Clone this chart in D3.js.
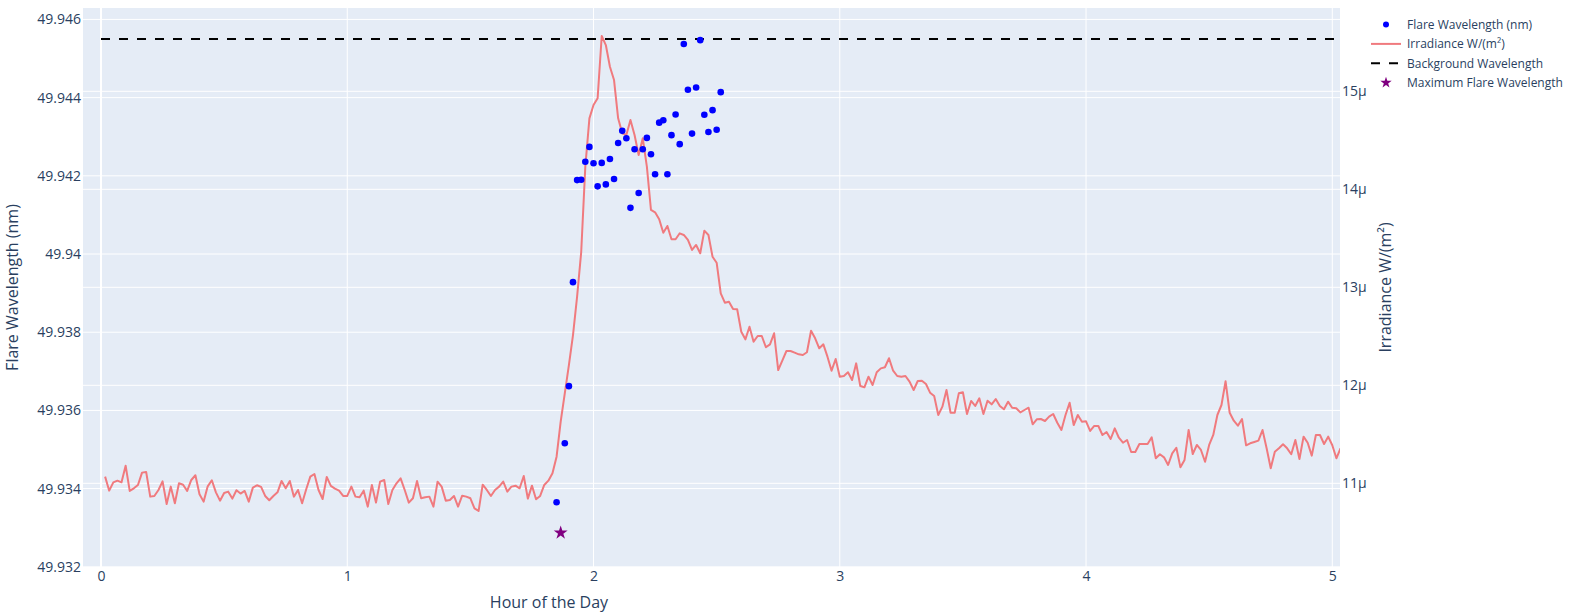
<!DOCTYPE html>
<html lang="en">
<head>
<meta charset="utf-8">
<title>Flare</title>
<style>
  body { margin: 0; background: #fff; }
  text { font-family: "Open Sans", verdana, arial, sans-serif; fill: #2a3f5f; }
</style>
</head>
<body>
<script src="https://cdn.jsdelivr.net/npm/d3@7"></script>
<script>
// irradiance, one value per minute starting at minute 1, in micro W/m^2
var irrStartMinute = 1;
var irradiance = [
  11.068, 10.925, 11.010, 11.027, 11.010, 11.180, 10.922, 10.949, 10.983, 11.109,
  11.116, 10.864, 10.871, 10.932, 11.020, 10.789, 10.966, 10.796, 11.000, 10.986,
  10.922, 11.034, 11.082, 10.888, 10.813, 10.969, 11.031, 10.908, 10.823, 10.901,
  10.915, 10.844, 10.929, 10.895, 10.922, 10.813, 10.956, 10.980, 10.963, 10.871,
  10.827, 10.871, 10.908, 11.024, 10.949, 11.024, 10.864, 10.932, 10.796, 10.939,
  11.068, 11.095, 10.932, 10.840, 11.065, 10.973, 10.946, 10.925,
  10.871, 10.871, 10.966, 10.864, 10.857, 10.925, 10.762, 10.983, 10.803, 11.017,
  11.034, 10.789, 10.932, 11.000, 11.051, 10.932, 10.803, 10.847, 11.024, 10.847,
  10.857, 10.864, 10.762, 11.017, 10.966, 10.823, 10.830, 10.871, 10.762, 10.874,
  10.864, 10.847, 10.745, 10.718, 10.986, 10.932, 10.871, 10.932, 10.966, 11.017,
  10.915, 10.966, 10.976, 10.949, 11.075, 10.844, 10.976, 10.837, 10.871, 10.983,
  11.027, 11.102, 11.272, 11.629,
  11.918, 12.207, 12.513, 12.904, 13.360,
  14.231, 14.724, 14.860, 14.929, 15.564, 15.472, 15.251, 15.115, 14.724, 14.571,
  14.554, 14.707, 14.554, 14.350, 14.520, 14.231,
  13.789, 13.765, 13.694, 13.557, 13.626, 13.490, 13.490, 13.551, 13.534, 13.483,
  13.381, 13.432, 13.347, 13.578, 13.534, 13.312, 13.251, 12.939, 12.843, 12.853,
  12.779, 12.776, 12.547, 12.469, 12.598, 12.445, 12.503, 12.503, 12.388, 12.418,
  12.531, 12.156, 12.251, 12.350, 12.350, 12.333, 12.316, 12.309, 12.337, 12.557,
  12.480, 12.378, 12.418, 12.292, 12.149, 12.268, 12.088, 12.095, 12.133, 12.054,
  12.224, 11.993, 11.980, 12.088, 12.003, 12.133, 12.173, 12.184, 12.276,
  12.149, 12.095, 12.088, 12.095, 12.037, 11.952, 12.044, 12.047, 12.013, 11.925,
  11.891, 11.697, 11.782, 11.952, 11.720, 11.720, 11.918, 11.929, 11.707, 11.840,
  11.789, 11.867, 11.707, 11.843, 11.806, 11.860, 11.789, 11.755, 11.833, 11.771,
  11.765, 11.724, 11.748, 11.771, 11.602, 11.653, 11.656, 11.636, 11.680, 11.707,
  11.618, 11.544, 11.697, 11.822, 11.595, 11.697, 11.629, 11.632, 11.534, 11.585,
  11.585, 11.493, 11.523, 11.452, 11.561, 11.465,
  11.414, 11.442, 11.319, 11.319, 11.401, 11.401, 11.401, 11.469, 11.255, 11.296,
  11.265, 11.187, 11.306, 11.363, 11.163, 11.238, 11.544, 11.299, 11.391, 11.340,
  11.220, 11.391, 11.493, 11.697, 11.799, 12.041, 11.720, 11.639, 11.588, 11.656,
  11.388, 11.408, 11.421, 11.435, 11.544, 11.357, 11.153, 11.322, 11.357, 11.398,
  11.357, 11.296, 11.442, 11.248, 11.476, 11.414, 11.282, 11.493, 11.493, 11.401,
  11.476, 11.388, 11.255, 11.357
];

// flare wavelength points (minute of day, nm)
var flareMinute = [111, 113, 114, 115, 116, 117, 118, 119, 120, 121,
  122, 123, 124, 125, 126, 127, 128, 129, 130, 131,
  132, 133, 134, 135, 136, 137, 138, 139, 140, 141,
  142, 143, 144, 145, 146, 147, 148, 149, 150, 151];
var flareWave = [49.93365, 49.93516, 49.93662, 49.93928, 49.94189, 49.94190, 49.94236, 49.94274, 49.94232, 49.94173,
  49.94233, 49.94178, 49.94243, 49.94192, 49.94284, 49.94315, 49.94296, 49.94118, 49.94268, 49.94156,
  49.94268, 49.94297, 49.94255, 49.94204, 49.94336, 49.94342, 49.94204, 49.94304, 49.94357, 49.94281,
  49.94537, 49.94420, 49.94308, 49.94426, 49.94547, 49.94356, 49.94312, 49.94368, 49.94318, 49.94414];

var backgroundWave = 49.9455;
var maxFlare = {minute: 112, wave: 49.93287};

var xTicks = [0, 1, 2, 3, 4, 5];
var yLeftTicks = [49.932, 49.934, 49.936, 49.938, 49.94, 49.942, 49.944, 49.946];
var yRightTicks = [11, 12, 13, 14, 15];

var legendItems = [
  {label: "Flare Wavelength (nm)", kind: "dot"},
  {label: "Irradiance W/(m\u00B2)", kind: "line"},
  {label: "Background Wavelength", kind: "dash"},
  {label: "Maximum Flare Wavelength", kind: "star"}
];

var W = 1594, H = 612;
var pL = 83, pR = 1340, pT = 8, pB = 567;

var svg = d3.select("body").append("svg").attr("width", W).attr("height", H);

var x = d3.scaleLinear().domain([-0.0731, 5.0313]).range([pL, pR]);
var yL = d3.scaleLinear().domain([49.931995, 49.946292]).range([pB, pT]);
var yR = d3.scaleLinear().domain([10.146, 15.85]).range([pB, pT]);

svg.append("rect").attr("x", pL).attr("y", pT)
  .attr("width", pR - pL).attr("height", pB - pT).attr("fill", "#E5ECF6");

svg.append("clipPath").attr("id", "clip").append("rect")
  .attr("x", pL).attr("y", pT).attr("width", pR - pL).attr("height", pB - pT);

// grid
var grid = svg.append("g");
grid.selectAll(".gx").data(xTicks).enter().append("line")
  .attr("x1", function(d){return x(d)}).attr("x2", function(d){return x(d)})
  .attr("y1", pT).attr("y2", pB)
  .attr("stroke", "#fff").attr("stroke-width", function(d){return d == 0 ? 2 : 1});
grid.selectAll(".gl").data(yLeftTicks).enter().append("line")
  .attr("x1", pL).attr("x2", pR)
  .attr("y1", function(d){return yL(d)}).attr("y2", function(d){return yL(d)})
  .attr("stroke", "#fff").attr("stroke-width", 1);
grid.selectAll(".gr").data(yRightTicks).enter().append("line")
  .attr("x1", pL).attr("x2", pR)
  .attr("y1", function(d){return yR(d)}).attr("y2", function(d){return yR(d)})
  .attr("stroke", "#fff").attr("stroke-width", 1);

// axes (labels only)
var axX = svg.append("g").attr("transform", "translate(0," + pB + ")")
  .call(d3.axisBottom(x).tickValues(xTicks).tickSize(0).tickPadding(4).tickFormat(d3.format("d")));
var axL = svg.append("g").attr("transform", "translate(" + pL + ",0)")
  .call(d3.axisLeft(yL).tickValues(yLeftTicks).tickSize(0).tickPadding(2)
    .tickFormat(function(d){return String(+d.toFixed(3))}));
var axR = svg.append("g").attr("transform", "translate(" + pR + ",0)")
  .call(d3.axisRight(yR).tickValues(yRightTicks).tickSize(0).tickPadding(2)
    .tickFormat(function(d){return d + "\u03BC"}));
[axX, axL, axR].forEach(function(a){
  a.select(".domain").remove();
  a.selectAll("text").attr("font-size", "14px").attr("fill", "#2a3f5f")
    .attr("font-family", "\"Open Sans\", verdana, arial, sans-serif");
});

var plot = svg.append("g").attr("clip-path", "url(#clip)");

// background wavelength
var lastHour = (irrStartMinute + irradiance.length - 1) / 60;
plot.append("line")
  .attr("x1", x(0)).attr("x2", x(lastHour))
  .attr("y1", yL(backgroundWave)).attr("y2", yL(backgroundWave))
  .attr("stroke", "#000").attr("stroke-width", 2).attr("stroke-dasharray", "9,9");

// irradiance line
var line = d3.line()
  .x(function(d, i){return x((irrStartMinute + i) / 60)})
  .y(function(d){return yR(d)});
plot.append("path").datum(irradiance).attr("d", line)
  .attr("fill", "none").attr("stroke", "#F07A7E").attr("stroke-width", 2)
  .attr("stroke-linejoin", "round");

// flare points
plot.selectAll(".dot").data(flareMinute).enter().append("circle")
  .attr("cx", function(d){return x(d / 60)})
  .attr("cy", function(d, i){return yL(flareWave[i])})
  .attr("r", 3.3).attr("fill", "#0000FF");

// maximum flare wavelength star
plot.append("path")
  .attr("d", d3.symbol().type(d3.symbolStar).size(60)())
  .attr("transform", "translate(" + x(maxFlare.minute / 60) + "," + yL(maxFlare.wave) + ")")
  .attr("fill", "#800080");

// axis titles
svg.append("text").attr("x", 549).attr("y", 608).attr("text-anchor", "middle")
  .attr("font-size", "16px").text("Hour of the Day");
svg.append("text").attr("transform", "translate(18," + ((pT + pB) / 2) + ") rotate(-90)")
  .attr("text-anchor", "middle").attr("font-size", "16px").text("Flare Wavelength (nm)");
svg.append("text").attr("transform", "translate(1391," + ((pT + pB) / 2) + ") rotate(-90)")
  .attr("text-anchor", "middle").attr("font-size", "16px").text("Irradiance W/(m\u00B2)");

// legend
var lg = svg.append("g").attr("transform", "translate(1370,24.5)");
var row = lg.selectAll("g").data(legendItems).enter().append("g")
  .attr("transform", function(d, i){return "translate(0," + (i * 19.4) + ")"});
row.append("text").attr("x", 37).attr("dy", "0.35em").attr("font-size", "12px")
  .text(function(d){return d.label});
row.each(function(d){
  var g = d3.select(this);
  if (d.kind == "dot") g.append("circle").attr("cx", 16).attr("r", 3).attr("fill", "#0000FF");
  if (d.kind == "line") g.append("line").attr("x1", 1).attr("x2", 31)
    .attr("stroke", "#F07A7E").attr("stroke-width", 2);
  if (d.kind == "dash") g.append("line").attr("x1", 1).attr("x2", 31)
    .attr("stroke", "#000").attr("stroke-width", 2).attr("stroke-dasharray", "9,9");
  if (d.kind == "star") g.append("path").attr("d", d3.symbol().type(d3.symbolStar).size(40)())
    .attr("transform", "translate(16,0)").attr("fill", "#800080");
});
</script>
</body>
</html>
